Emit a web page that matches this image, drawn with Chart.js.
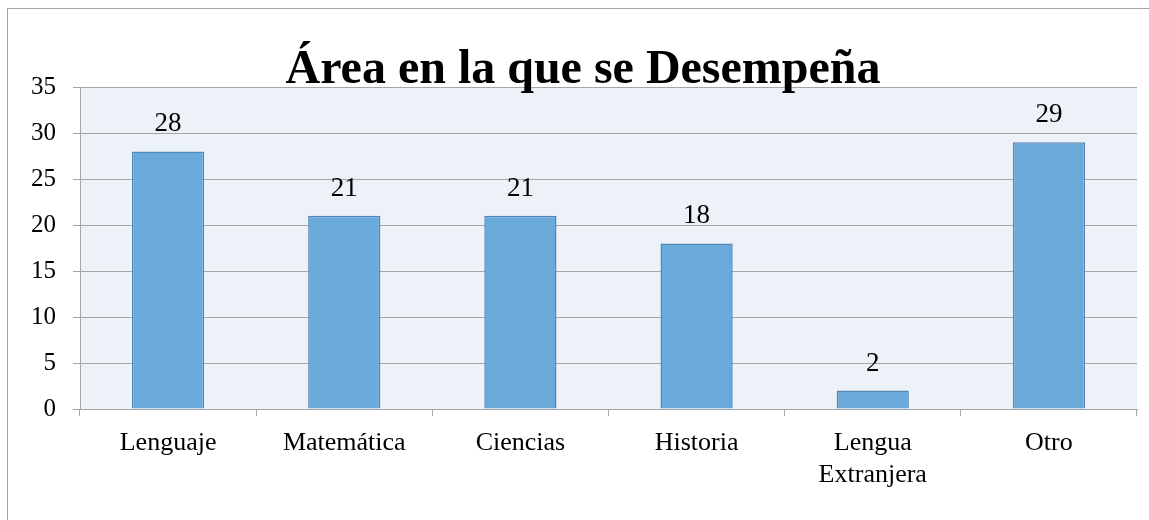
<!DOCTYPE html>
<html>
<head>
<meta charset="utf-8">
<script src="https://cdn.jsdelivr.net/npm/chart.js@4/dist/chart.umd.min.js"></script>
<style>
html,body{margin:0;padding:0;background:#fff;}
#wrap{width:1149px;height:520px;position:relative;}
</style>
</head>
<body>
<div id="wrap"><canvas id="c" width="1149" height="520"></canvas></div>
<script>
const chartTitle = "Área en la que se Desempeña";
const categories = ["Lenguaje", ["Matemática"], "Ciencias", "Historia", ["Lengua", "Extranjera"], "Otro"];
const values = [28, 21, 21, 18, 2, 29];
const yMin = 0, yMax = 35, yStep = 5;

const FONT = "'Liberation Serif', 'Times New Roman', serif";

const bgPlugin = {
  id: 'bg',
  beforeDraw(chart) {
    const {ctx, chartArea: a} = chart;
    ctx.save();
    ctx.fillStyle = '#fff';
    ctx.fillRect(0, 0, chart.width, chart.height);
    ctx.strokeStyle = '#A6A6A6';
    ctx.lineWidth = 1;
    ctx.strokeRect(7.5, 8.5, 1300, 700);
    ctx.fillStyle = '#EDF2F9';
    ctx.fillRect(a.left, a.top, a.right - a.left, a.bottom - a.top);
    ctx.restore();
  },
  afterDatasetsDraw(chart) {
    const {ctx} = chart;
    const meta = chart.getDatasetMeta(0);
    ctx.save();
    ctx.fillStyle = '#000';
    ctx.font = "27px " + FONT;
    ctx.textAlign = 'center';
    ctx.textBaseline = 'alphabetic';
    meta.data.forEach((bar, i) => {
      ctx.fillText(String(values[i]), bar.x, bar.y - 20);
    });
    ctx.restore();
  },
  afterDraw(chart) {
    const {ctx} = chart;
    ctx.save();
    ctx.fillStyle = '#000';
    ctx.font = "bold 48px " + FONT;
    ctx.textAlign = 'center';
    ctx.textBaseline = 'alphabetic';
    ctx.fillText(chartTitle, 583, 83);
    ctx.restore();
  }
};

new Chart(document.getElementById('c'), {
  type: 'bar',
  data: {
    labels: categories,
    datasets: [{
      data: values,
      backgroundColor: '#6AAADB',
      borderColor: '#5586B8',
      borderWidth: 1.5,
      barPercentage: 0.41,
      categoryPercentage: 1.0
    }]
  },
  options: {
    responsive: false,
    animation: false,
    devicePixelRatio: 1,
    layout: {padding: {left: 8, top: 87, right: 12, bottom: 10}},
    plugins: {legend: {display: false}, title: {display: false}, tooltip: {enabled: false}},
    scales: {
      x: {
        offset: true,
        grid: {offset: true, drawOnChartArea: false, drawTicks: true, tickLength: 7, color: '#A6A6A6'},
        border: {display: true, color: '#A6A6A6', width: 1},
        ticks: {color: '#000', font: {family: FONT, size: 26, lineHeight: 1.2}, padding: 12, maxRotation: 0, autoSkip: false},
        afterFit(s) { s.height = 101; }
      },
      y: {
        min: yMin, max: yMax,
        ticks: {stepSize: yStep, color: '#000', font: {family: FONT, size: 25}, padding: 17},
        grid: {color: '#A6A6A6', tickLength: 7, drawTicks: true},
        border: {display: true, color: '#A6A6A6', width: 1},
        afterFit(s) { s.width = 72; }
      }
    }
  },
  plugins: [bgPlugin]
});
</script>
</body>
</html>
